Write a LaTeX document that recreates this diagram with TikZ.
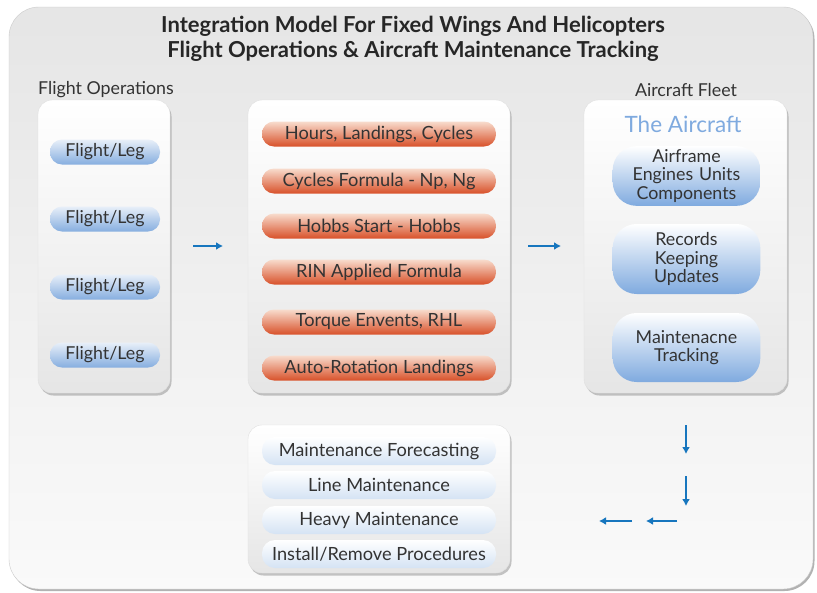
\documentclass[tikz,border=0pt]{standalone}
\usepackage{fontspec}
\setmainfont{Lato}
\usetikzlibrary{shadows,arrows.meta}
\definecolor{arrowblue}{HTML}{1776BE}
\definecolor{inktext}{HTML}{333333}
\definecolor{pillblue}{HTML}{86AEDF}
\definecolor{pilltop}{HTML}{E8EFF9}
\definecolor{orangebot}{HTML}{D8512A}
\definecolor{orangetop}{HTML}{F8DCCD}
\definecolor{skyblue}{HTML}{7FAADF}
\tikzset{
  panel/.style={draw=black!12, rounded corners=14pt, top color=white, bottom color=black!10,
    drop shadow={shadow xshift=1.5pt, shadow yshift=-2.5pt, opacity=0.45}},
  bluepill/.style={rounded corners=12pt, minimum width=110pt, minimum height=25pt,
    top color=pilltop, bottom color=pillblue, text=inktext, font=\fontsize{17.8}{20}\selectfont},
  redpill/.style={rounded corners=12pt, minimum width=234pt, minimum height=25pt,
    top color=orangetop, bottom color=orangebot, text=inktext, font=\fontsize{18.2}{20}\selectfont},
  bigpill/.style={rounded corners=24pt, minimum width=141pt, text width=141pt, align=center,
    top color=white, bottom color=skyblue, text=inktext, font=\fontsize{17.8}{18.5}\selectfont},
  palepill/.style={rounded corners=13pt, minimum width=234pt, minimum height=28pt,
    top color=white, bottom color=pillblue!35, text=inktext, font=\fontsize{18.2}{20}\selectfont},
  flow/.style={-{Latex[length=7pt,width=8pt]}, line width=2pt, arrowblue}
}
\begin{document}
\begin{tikzpicture}[x=1pt,y=-1pt]
\useasboundingbox (0,0) rectangle (817,592);
\fill[white] (0,0) rectangle (817,592);
\node[draw=black!20, rounded corners=30pt, minimum width=804pt, minimum height=582pt,
  top color=black!10, bottom color=black!2,
  drop shadow={shadow xshift=1.5pt, shadow yshift=-2pt, opacity=0.6}] (frame) at (411,298) {};
\node[font=\bfseries\fontsize{22}{25}\selectfont, text=black!85, align=center] (title) at (413,39)
  {Integration Model For Fixed Wings And Helicopters\\Flight Operations \& Aircraft Maintenance Tracking};
\node[font=\fontsize{17.8}{20}\selectfont, text=inktext] (opslbl) at (106,90) {Flight Operations};
\node[font=\fontsize{17.8}{20}\selectfont, text=inktext] (fleetlbl) at (686,90) {Aircraft Fleet};

% panels
\node[panel, minimum width=132pt, minimum height=293pt] (ops) at (104,246.5) {};
\node[panel, minimum width=262pt, minimum height=293pt] (calc) at (379,246.5) {};
\node[panel, minimum width=203pt, minimum height=293pt] (fleet) at (685.5,246.5) {};
\node[panel, minimum width=262pt, minimum height=148pt] (maint) at (379,499) {};

% flight legs
\foreach \Y in {152,219,287,355}
{\node[bluepill] (leg\Y) at (105,\Y) {Flight/Leg};}

% counters
\foreach \Y/\T in {134/{Hours, Landings, Cycles}, 181/{Cycles Formula - Np, Ng},
  226/{Hobbs Start - Hobbs}, 272/{RIN Applied Formula}, 322/{Torque Envents, RHL},
  368/{Auto-Rotation Landings}}
{\node[redpill] (cnt\Y) at (379,\Y) {\T};}

% aircraft
\node[text=skyblue, font=\fontsize{22.5}{24}\selectfont] (acft) at (683,124) {The Aircraft};
\node[bigpill, minimum height=58pt] (parts) at (686.5,176) {Airframe\\Engines Units\\Components};
\node[bigpill, minimum height=70pt] (records) at (686.5,259) {Records\\Keeping\\Updates};
\node[bigpill, minimum height=69pt] (track) at (686.5,347.5) {Maintenacne\\Tracking};

% maintenance
\foreach \Y/\T in {451/{Maintenance Forecasting}, 485/{Line Maintenance},
  520/{Heavy Maintenance}, 554/{Install/Remove Procedures}}
{\node[palepill] (mnt\Y) at (379,\Y) {\T};}

% arrows
\coordinate (a1) at (193,246); \coordinate (b1) at (223,246);
\coordinate (a2) at (528,246); \coordinate (b2) at (561,246);
\coordinate (a3) at (686,425); \coordinate (b3) at (686,454);
\coordinate (a4) at (686,476); \coordinate (b4) at (686,506);
\coordinate (a5) at (677,521); \coordinate (b5) at (646,521);
\coordinate (a6) at (632,521); \coordinate (b6) at (599,521);
\foreach \i in {1,...,6}
{\draw[flow] (a\i) -- (b\i);}

\end{tikzpicture}
\end{document}
